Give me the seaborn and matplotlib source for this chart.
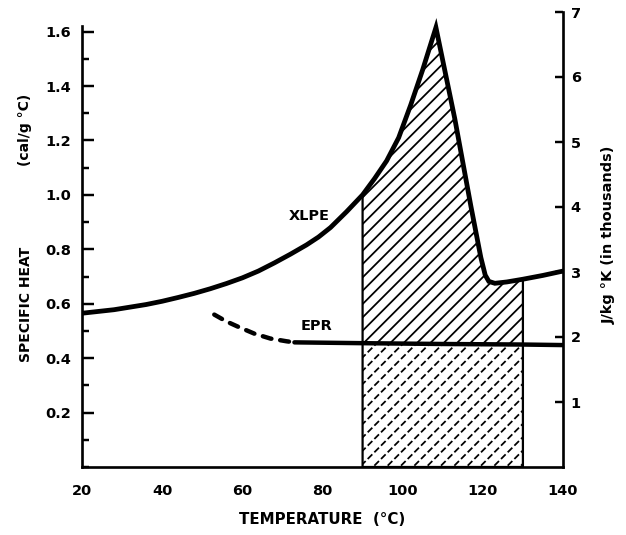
import numpy as np
import pandas as pd
import matplotlib
matplotlib.use("Agg")
import matplotlib.pyplot as plt
from matplotlib.ticker import MultipleLocator, FixedLocator
import seaborn as sns

# ---- data ----
xlpe_temp = [20, 28, 36, 40, 44, 48, 52, 56, 60, 64, 68, 72, 76, 79, 82, 86,
             90, 93, 96, 99, 102, 105, 108.3, 113, 117, 119.5, 120.6, 121.5,
             123, 126, 130, 135, 140]
xlpe_cp = [0.565, 0.578, 0.597, 0.609, 0.623, 0.638, 0.655, 0.674, 0.695,
           0.720, 0.750, 0.782, 0.816, 0.845, 0.880, 0.938, 1.000, 1.060,
           1.125, 1.210, 1.330, 1.460, 1.615, 1.280, 0.960, 0.770, 0.705,
           0.682, 0.675, 0.680, 0.690, 0.704, 0.720]

epr_dash_temp = [53, 56, 59, 63, 67, 71, 73]
epr_dash_cp = [0.560, 0.535, 0.515, 0.490, 0.472, 0.462, 0.458]
epr_solid_temp = [73, 90, 110, 130, 140]
epr_solid_cp = [0.458, 0.455, 0.452, 0.450, 0.448]

x_ticks = [20, 40, 60, 80, 100, 120, 140]
left_ticks = [0.2, 0.4, 0.6, 0.8, 1.0, 1.2, 1.4, 1.6]
left_tick_labels = ["0.2", "0.4", "0.6", "0.8", "1.0", "1.2", "1.4", "1.6"]
right_ticks = [1, 2, 3, 4, 5, 6, 7]
right_tick_labels = ["1", "2", "3", "4", "5", "6", "7"]
shade_range = (90, 130)
CAL_TO_KJ = 4.1868

# ---- styling ----
sns.set_theme(style="white")
plt.rcParams["font.family"] = ["DejaVu Sans"]
plt.rcParams["font.weight"] = "bold"
plt.rcParams["text.color"] = "black"
plt.rcParams["axes.labelcolor"] = "black"
plt.rcParams["xtick.color"] = "black"
plt.rcParams["ytick.color"] = "black"
plt.rcParams["hatch.linewidth"] = 1.6

W, H, DPI = 626, 535, 80
fig = plt.figure(figsize=(W / DPI, H / DPI), dpi=DPI)
fig.patch.set_facecolor("white")
ax = fig.add_axes([82 / W, 1 - 467 / H, 481 / W, 455 / H])
ax.set_facecolor("none")
ax.set_xlim(20, 140)
ax.set_ylim(0, 7 / CAL_TO_KJ)

df_xlpe = pd.DataFrame({"temp": xlpe_temp, "cp": xlpe_cp})
df_epr_d = pd.DataFrame({"temp": epr_dash_temp, "cp": epr_dash_cp})
df_epr_s = pd.DataFrame({"temp": epr_solid_temp, "cp": epr_solid_cp})

# ---- shaded regions ----
T = np.array(xlpe_temp, dtype=float)
C = np.array(xlpe_cp, dtype=float)
m = (T >= shade_range[0]) & (T <= shade_range[1])
Tf, top = T[m], C[m]
epr_at = np.interp(Tf, np.array(epr_solid_temp, float), np.array(epr_solid_cp, float))

ax.fill_between(Tf, epr_at, top, facecolor="none", edgecolor="black",
                hatch="//", linewidth=0, zorder=1)
ax.fill_between(Tf, 0, epr_at, facecolor="none", edgecolor="black",
                hatch="//", linewidth=0, zorder=1)
with plt.rc_context({"hatch.linewidth": 2.6}):
    cut = ax.fill_between(Tf, 0, epr_at, facecolor="none", edgecolor="white",
                          hatch="\\\\", linewidth=0, zorder=1.5)
try:
    cut.set_hatch_linewidth(2.6)
except Exception:
    pass
ax.fill_between(Tf, 0, top, facecolor="none", edgecolor="black",
                linewidth=2.0, zorder=2)

# ---- curves ----
sns.lineplot(data=df_xlpe, x="temp", y="cp", ax=ax, color="black", lw=4.3,
             solid_joinstyle="miter", zorder=5)
sns.lineplot(data=df_epr_s, x="temp", y="cp", ax=ax, color="black", lw=4.0,
             zorder=5)
sns.lineplot(data=df_epr_d, x="temp", y="cp", ax=ax, color="black", lw=4.0,
             linestyle=(0, (2.0, 2.0)), dash_capstyle="round", zorder=5)

ax.text(76.6, 0.923, "XLPE", ha="center", va="center", fontsize=13,
        fontweight="bold")
ax.text(78.6, 0.518, "EPR", ha="center", va="center", fontsize=13,
        fontweight="bold")

# ---- axes ----
for s in ["top", "right"]:
    ax.spines[s].set_visible(False)
for s in ["left", "bottom"]:
    ax.spines[s].set_linewidth(2.4)
    ax.spines[s].set_color("black")
ax.spines["left"].set_bounds(0, 1.62)

ax.xaxis.set_major_locator(FixedLocator(x_ticks))
ax.set_xticklabels([str(t) for t in x_ticks])
ax.yaxis.set_major_locator(FixedLocator(left_ticks))
ax.set_yticklabels(left_tick_labels)
ax.yaxis.set_minor_locator(MultipleLocator(0.1))
ax.tick_params(axis="y", which="major", direction="in", length=11, width=2.2,
               pad=10, labelsize=13, colors="black")
ax.tick_params(axis="y", which="minor", direction="in", length=6.5, width=2.2,
               left=True)
ax.tick_params(axis="x", which="major", direction="in", length=11, width=2.2,
               pad=15, labelsize=13, colors="black")
for lab in ax.get_xticklabels() + ax.get_yticklabels():
    lab.set_fontweight("bold")
ax.set_xlabel("TEMPERATURE  (°C)", fontsize=13.5, fontweight="bold",
              labelpad=13, color="black")
ax.set_ylabel("")

ax2 = ax.twinx()
ax2.set_ylim(0, 7)
for s in ["top", "left", "bottom"]:
    ax2.spines[s].set_visible(False)
ax2.spines["right"].set_linewidth(2.4)
ax2.spines["right"].set_color("black")
ax2.yaxis.set_major_locator(FixedLocator(right_ticks))
ax2.set_yticklabels(right_tick_labels)
ax2.tick_params(axis="y", which="major", direction="in", length=7, width=2.2,
                pad=7, labelsize=13, colors="black")
for lab in ax2.get_yticklabels():
    lab.set_fontweight("bold")
ax2.grid(False)
ax.grid(False)

fig.text(26 / W, 1 - 304 / H, "SPECIFIC HEAT", rotation=90, ha="center",
         va="center", fontsize=12.5, fontweight="bold", color="black")
fig.text(25 / W, 1 - 130 / H, "(cal/g °C)", rotation=90, ha="center",
         va="center", fontsize=12.5, fontweight="bold", color="black")
fig.text(609 / W, 1 - 235 / H, "J/kg °K (in thousands)", rotation=90,
         ha="center", va="center", fontsize=13, fontweight="bold",
         color="black")

fig.savefig("out.png", dpi=DPI, facecolor="white")
